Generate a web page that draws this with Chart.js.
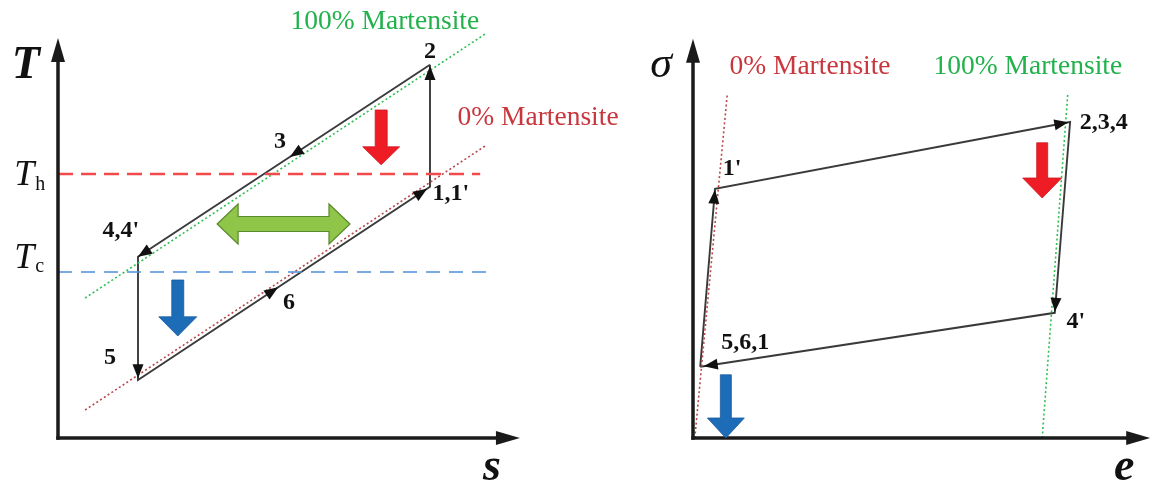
<!DOCTYPE html>
<html><head><meta charset="utf-8">
<script src="https://cdn.jsdelivr.net/npm/chart.js@4.4.0/dist/chart.umd.min.js"></script>
<style>
html,body{margin:0;padding:0;background:#fff;}
#wrap{position:relative;width:1156px;height:483px;overflow:hidden;}
canvas{position:absolute;top:0;}
#cL{left:0;}
#cR{left:640px;}
</style></head><body>
<div id="wrap"><canvas id="cL" width="640" height="483"></canvas><canvas id="cR" width="516" height="483"></canvas></div>
<script>
// ---------- T–s diagram data (arbitrary units, 0..10) ----------
const tsCycleS = [8.23, 1.77, 1.77, 8.23, 8.23];   // 2 → 4,4' → 5 → 1,1' → 2
const tsCycleT = [9.33, 4.53, 1.45, 6.28, 9.33];
const tsHotS = [0, 9.34];   const tsHotT = [6.6, 6.6];     // T_h
const tsColdS = [0, 9.56];  const tsColdT = [4.15, 4.15];  // T_c
const tsBoundS = [0.6, 9.49];
const tsFullMartT = [3.5, 10.13];   // 100% Martensite
const tsZeroMartT = [0.7, 7.33];    // 0% Martensite
const tsStateLabels = ['2', '3', "1,1'", "4,4'", '6', '5'];
const tsStateLabelS = [8.23, 4.91, 8.69, 1.39, 5.11, 1.15];
const tsStateLabelT = [9.65, 7.4, 6.1, 5.18, 3.38, 2.0];

// ---------- σ–e diagram data ----------
const seCycleE   = [0.16, 0.49, 8.38, 8.04, 0.16];  // 5,6,1 → 1' → 2,3,4 → 4' → 5,6,1
const seCycleSig = [1.78, 6.23, 7.9, 3.13, 1.78];
const seZeroMartE = [0.04, 0.76]; const seZeroMartSig = [0, 8.58];
const seFullMartE = [7.76, 8.33]; const seFullMartSig = [0, 8.63];
const seStateLabels = ["1'", '2,3,4', "4'", '5,6,1'];
const seStateLabelE = [0.87, 9.13, 8.51, 1.16];
const seStateLabelSig = [6.73, 7.88, 2.9, 2.38];

const SERIF = '"Liberation Serif", "Times New Roman", serif';

function pts(xs, ys){ return xs.map((x,i)=>({x:x, y:ys[i]})); }

function head(ctx, x1, y1, x2, y2, len, hw, color){
  const a = Math.atan2(y2-y1, x2-x1);
  ctx.save(); ctx.translate(x2, y2); ctx.rotate(a);
  ctx.beginPath(); ctx.moveTo(0,0); ctx.lineTo(-len,-hw); ctx.lineTo(-len,hw); ctx.closePath();
  ctx.fillStyle = color; ctx.fill(); ctx.restore();
}

function blockDown(ctx, cx, top, hs, bottom, sw, hw, fill, stroke){
  ctx.save();
  ctx.beginPath();
  ctx.moveTo(cx-sw, top); ctx.lineTo(cx+sw, top); ctx.lineTo(cx+sw, hs);
  ctx.lineTo(cx+hw, hs); ctx.lineTo(cx, bottom); ctx.lineTo(cx-hw, hs);
  ctx.lineTo(cx-sw, hs); ctx.closePath();
  ctx.fillStyle = fill; ctx.fill();
  ctx.lineWidth = 0.8; ctx.strokeStyle = stroke; ctx.stroke();
  ctx.restore();
}

function blockDouble(ctx, x1, x2, cy, hl, sh, hh, fill, stroke){
  ctx.save();
  ctx.beginPath();
  ctx.moveTo(x1, cy); ctx.lineTo(x1+hl, cy-hh); ctx.lineTo(x1+hl, cy-sh);
  ctx.lineTo(x2-hl, cy-sh); ctx.lineTo(x2-hl, cy-hh); ctx.lineTo(x2, cy);
  ctx.lineTo(x2-hl, cy+hh); ctx.lineTo(x2-hl, cy+sh); ctx.lineTo(x1+hl, cy+sh);
  ctx.lineTo(x1+hl, cy+hh); ctx.closePath();
  ctx.fillStyle = fill; ctx.fill();
  ctx.lineWidth = 1.2; ctx.strokeStyle = stroke; ctx.stroke();
  ctx.restore();
}

function makeDecor(cfg){
  return {
    id: 'decor',
    afterDatasetsDraw(chart){
      const ctx = chart.ctx, sx = chart.scales.x, sy = chart.scales.y;
      const X = v => sx.getPixelForValue(v), Y = v => sy.getPixelForValue(v);
      // axes
      ctx.save();
      ctx.strokeStyle = '#1a1a1a'; ctx.lineWidth = 3.5; ctx.lineCap = 'butt';
      const ox = X(0), oy = Y(0);
      ctx.beginPath(); ctx.moveTo(ox, oy+1.75); ctx.lineTo(ox, Y(cfg.yTip)+18); ctx.stroke();
      ctx.beginPath(); ctx.moveTo(ox-1.75, oy); ctx.lineTo(X(cfg.xTip)-18, oy); ctx.stroke();
      head(ctx, ox, oy, ox, Y(cfg.yTip), 24, 7, '#1a1a1a');
      head(ctx, ox, oy, X(cfg.xTip), oy, 24, 7, '#1a1a1a');
      ctx.restore();
      // arrowheads along cycle
      const xs = cfg.cx, ys = cfg.cy;
      cfg.arrows.forEach((fr, i) => {
        const x1 = X(xs[i]), y1 = Y(ys[i]), x2 = X(xs[i+1]), y2 = Y(ys[i+1]);
        fr.forEach(f => {
          head(ctx, x1, y1, x1+(x2-x1)*f, y1+(y2-y1)*f, 14, 5.5, '#111');
        });
      });
      // block arrows
      (cfg.downs||[]).forEach(b => {
        blockDown(ctx, X(b.x), Y(b.top), Y(b.hs), Y(b.bottom), b.sw, b.hw, b.fill, b.stroke);
      });
      (cfg.doubles||[]).forEach(b => {
        blockDouble(ctx, X(b.x1), X(b.x2), Y(b.y), b.hl, b.sh, b.hh, b.fill, b.stroke);
      });
      // texts
      cfg.texts.forEach(t => {
        ctx.save();
        ctx.font = t.font; ctx.fillStyle = t.color || '#111';
        ctx.textAlign = t.align || 'center'; ctx.textBaseline = t.base || 'middle';
        ctx.fillText(t.text, X(t.x), Y(t.y));
        if (t.sub){
          ctx.font = t.subFont; ctx.textAlign = 'left'; ctx.textBaseline = 'alphabetic';
          ctx.fillText(t.sub, X(t.x)+t.subDx, Y(t.y)+t.subDy);
        }
        ctx.restore();
      });
    }
  };
}

function baseOptions(pad, xmax, ymax){
  return {
    responsive: false, animation: false, devicePixelRatio: 1,
    layout: { padding: pad },
    plugins: { legend: { display: false }, tooltip: { enabled: false } },
    scales: {
      x: { type: 'linear', min: 0, max: xmax, display: false },
      y: { type: 'linear', min: 0, max: ymax, display: false }
    },
    elements: { point: { radius: 0 } }
  };
}

const CYCLE_COLOR = '#3a3a3a';

// ---------- left chart ----------
const tsTexts = [
  { text: 'T', x: -0.71, y: 9.0, base: 'alphabetic', font: `italic bold 46px ${SERIF}` },
  { text: 's', x: 9.6, y: -1.05, base: 'alphabetic', font: `italic bold 46px ${SERIF}` },
  { text: 'T', x: -0.97, y: 6.33, align: 'left', base: 'alphabetic', font: `italic 36px ${SERIF}`,
    sub: 'h', subFont: `20px ${SERIF}`, subDx: 21, subDy: 5 },
  { text: 'T', x: -0.97, y: 4.25, align: 'left', base: 'alphabetic', font: `italic 36px ${SERIF}`,
    sub: 'c', subFont: `20px ${SERIF}`, subDx: 21, subDy: 4 },
  { text: '100% Martensite', x: 7.23, y: 10.4, font: `27.5px ${SERIF}`, color: '#22b24c' },
  { text: '0% Martensite', x: 10.62, y: 8.0, font: `27.5px ${SERIF}`, color: '#c8373d' }
].concat(tsStateLabels.map((s,i)=>({ text: s, x: tsStateLabelS[i], y: tsStateLabelT[i], font: `bold 24px ${SERIF}` })));

new Chart(document.getElementById('cL'), {
  type: 'scatter',
  data: { datasets: [
    { data: pts(tsHotS, tsHotT), showLine: true, borderColor: '#f24a4a', borderWidth: 2.5, borderDash: [15, 8], clip: false },
    { data: pts(tsColdS, tsColdT), showLine: true, borderColor: '#4f8fd8', borderWidth: 1.6, borderDash: [14, 9], clip: false },
    { data: pts(tsBoundS, tsFullMartT), showLine: true, borderColor: '#2fbf50', borderWidth: 1.6, borderDash: [2, 2.5], clip: false },
    { data: pts(tsBoundS, tsZeroMartT), showLine: true, borderColor: '#b8474b', borderWidth: 1.6, borderDash: [2, 2.5], clip: false },
    { data: pts(tsCycleS, tsCycleT), showLine: true, borderColor: CYCLE_COLOR, borderWidth: 1.9, clip: false }
  ]},
  options: baseOptions({ left: 58, right: 130, top: 38, bottom: 45 }, 10, 10),
  plugins: [makeDecor({
    xTip: 10.22, yTip: 10, cx: tsCycleS, cy: tsCycleT,
    arrows: [[0.48, 1], [0.985], [0.48, 0.99], [0.99]],
    downs: [
      { x: 7.15, top: 8.2, hs: 7.28, bottom: 6.83, sw: 6, hw: 18.5, fill: '#ee1c24', stroke: '#d0161c' },
      { x: 2.65, top: 3.95, hs: 3.03, bottom: 2.55, sw: 6, hw: 19, fill: '#1d6cb8', stroke: '#185c9e' }
    ],
    doubles: [
      { x1: 3.52, x2: 6.46, y: 5.35, hl: 21, sh: 7.5, hh: 20, fill: '#8fc64a', stroke: '#5b8a2c' }
    ],
    texts: tsTexts
  })]
});

// ---------- right chart ----------
const seTexts = [
  { text: 'σ', x: -0.71, y: 9.03, base: 'alphabetic', font: `italic 44px ${SERIF}` },
  { text: 'e', x: 9.58, y: -1.05, base: 'alphabetic', font: `italic bold 46px ${SERIF}` },
  { text: '0% Martensite', x: 2.6, y: 9.28, font: `27.5px ${SERIF}`, color: '#c8373d' },
  { text: '100% Martensite', x: 7.44, y: 9.28, font: `27.5px ${SERIF}`, color: '#22b24c' }
].concat(seStateLabels.map((s,i)=>({ text: s, x: seStateLabelE[i], y: seStateLabelSig[i], font: `bold 24px ${SERIF}` })));

new Chart(document.getElementById('cR'), {
  type: 'scatter',
  data: { datasets: [
    { data: pts(seZeroMartE, seZeroMartSig), showLine: true, borderColor: '#b8474b', borderWidth: 1.6, borderDash: [2, 2.5], clip: false },
    { data: pts(seFullMartE, seFullMartSig), showLine: true, borderColor: '#2fbf50', borderWidth: 1.6, borderDash: [2, 2.5], clip: false },
    { data: pts(seCycleE, seCycleSig), showLine: true, borderColor: CYCLE_COLOR, borderWidth: 1.9, clip: false }
  ]},
  options: baseOptions({ left: 53, right: 13, top: 38, bottom: 45 }, 10, 10),
  plugins: [makeDecor({
    xTip: 10.16, yTip: 9.98, cx: seCycleE, cy: seCycleSig,
    arrows: [[0.995], [0.995], [0.995], [0.99]],
    downs: [
      { x: 7.76, top: 7.38, hs: 6.5, bottom: 6.0, sw: 5.5, hw: 19.5, fill: '#ee1c24', stroke: '#d0161c' },
      { x: 0.73, top: 1.58, hs: 0.5, bottom: 0.0, sw: 5.5, hw: 18.5, fill: '#1d6cb8', stroke: '#185c9e' }
    ],
    texts: seTexts
  })]
});
</script>
</body></html>
